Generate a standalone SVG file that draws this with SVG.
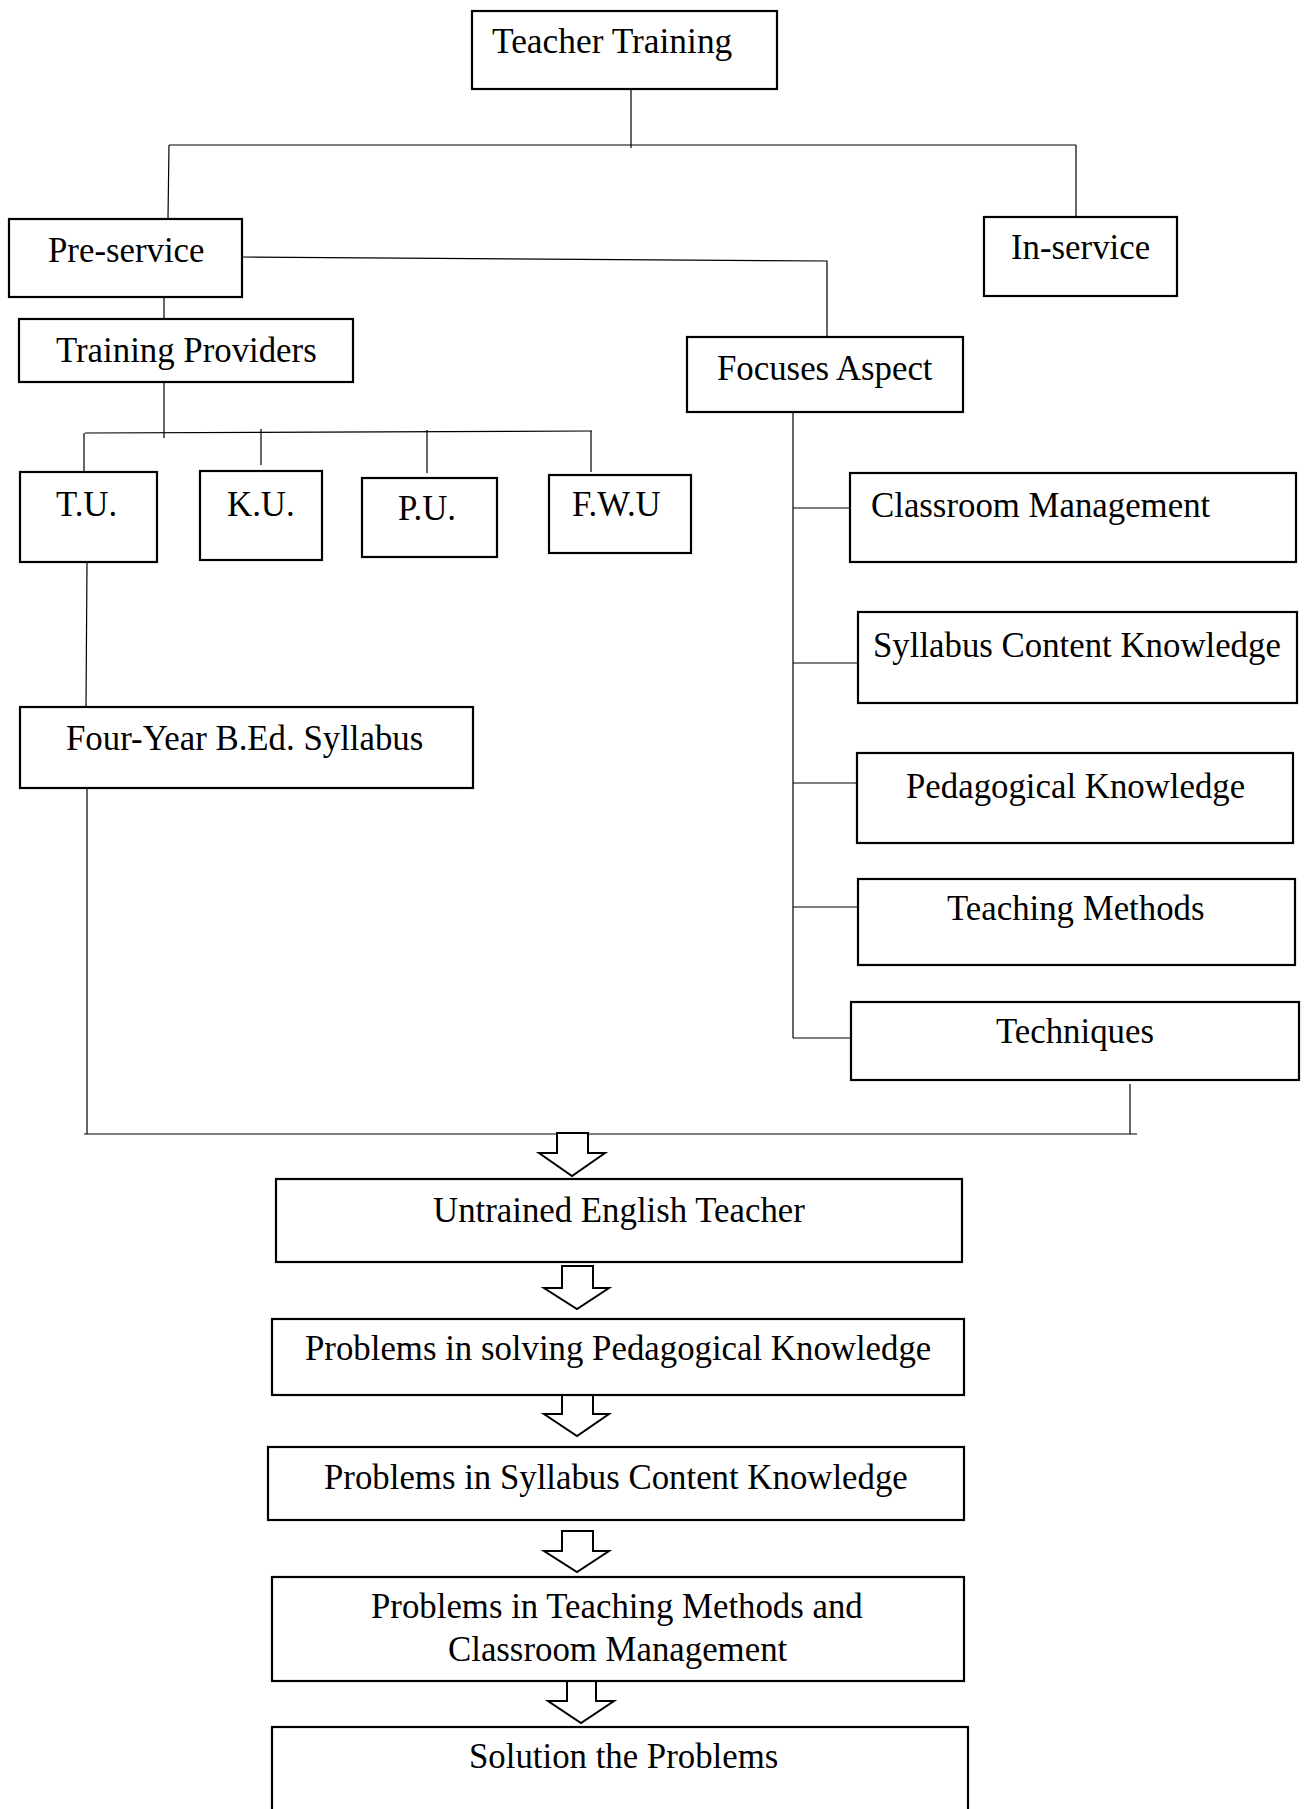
<svg xmlns="http://www.w3.org/2000/svg" width="1305" height="1809" viewBox="0 0 1305 1809">
<style>
.box{fill:#fff;stroke:#000;stroke-width:2.2}
.t{font-family:"Liberation Serif","Times New Roman",serif;font-size:34.8px;fill:#000}
.c{fill:none;stroke:#000;stroke-width:1.2}
.arr{fill:#fff;stroke:#000;stroke-width:2;stroke-linejoin:miter}
</style>
<rect width="1305" height="1809" fill="#fff"/>
<g id="connectors">
<path class="c" d="M631,89 V148"/>
<path class="c" d="M169,145 H1076"/>
<path class="c" d="M169,145 L168,218"/>
<path class="c" d="M1076,145 V217"/>
<path class="c" d="M242,257 L827,261 V337"/>
<path class="c" d="M164,297 V319"/>
<path class="c" d="M164,378 V438"/>
<path class="c" d="M85,433 L592,431"/>
<path class="c" d="M84,433 V472"/>
<path class="c" d="M261,429 V465"/>
<path class="c" d="M427,430 V473"/>
<path class="c" d="M591,431 V472"/>
<path class="c" d="M87,562 L86,707"/>
<path class="c" d="M87,788 V1134"/>
<path class="c" d="M793,407 V1038"/>
<path class="c" d="M793,508 H853"/>
<path class="c" d="M793,663 H858"/>
<path class="c" d="M793,783 H857"/>
<path class="c" d="M793,907 H858"/>
<path class="c" d="M793,1038 H851"/>
<path class="c" d="M1130,1084 V1134"/>
<path class="c" d="M84,1134 H1137"/>
<polygon class="arr" points="557,1133 588,1133 588,1153 605,1153 572,1176 539,1153 557,1153"/>
<polygon class="arr" points="562,1266 593,1266 593,1288 609,1288 577,1309 544,1288 562,1288"/>
<polygon class="arr" points="562,1393 593,1393 593,1414 609,1414 577,1436 544,1414 562,1414"/>
<polygon class="arr" points="562,1531 593,1531 593,1551 609,1551 577,1572 544,1551 562,1551"/>
<polygon class="arr" points="567,1681 596,1681 596,1701 614,1701 581,1723 548,1701 567,1701"/>
</g>
<g id="teacher-training"><rect class="box" x="472" y="11" width="305" height="78"/><text class="t" x="492" y="53" style="font-size:35.4px">Teacher Training</text></g>
<g id="pre-service"><rect class="box" x="9" y="219" width="233" height="78"/><text class="t" x="48" y="262">Pre-service</text></g>
<g id="in-service"><rect class="box" x="984" y="217" width="193" height="79"/><text class="t" x="1011" y="259">In-service</text></g>
<g id="training-providers"><rect class="box" x="19" y="319" width="334" height="63"/><text class="t" x="56" y="362">Training Providers</text></g>
<g id="focuses-aspect"><rect class="box" x="687" y="337" width="276" height="75"/><text class="t" x="717" y="380">Focuses Aspect</text></g>
<g id="tu"><rect class="box" x="20" y="472" width="137" height="90"/><text class="t" x="56" y="516">T.U.</text></g>
<g id="ku"><rect class="box" x="200" y="471" width="122" height="89"/><text class="t" x="227" y="516">K.U.</text></g>
<g id="pu"><rect class="box" x="362" y="478" width="135" height="79"/><text class="t" x="398" y="520">P.U.</text></g>
<g id="fwu"><rect class="box" x="549" y="475" width="142" height="78"/><text class="t" x="572" y="516">F.W.U</text></g>
<g id="bed-syllabus"><rect class="box" x="20" y="707" width="453" height="81"/><text class="t" x="66" y="750">Four-Year B.Ed. Syllabus</text></g>
<g id="classroom-management"><rect class="box" x="850" y="473" width="446" height="89"/><text class="t" x="871" y="517">Classroom Management</text></g>
<g id="syllabus-content"><rect class="box" x="858" y="612" width="439" height="91"/><text class="t" x="873" y="657">Syllabus Content Knowledge</text></g>
<g id="pedagogical"><rect class="box" x="857" y="753" width="436" height="90"/><text class="t" x="906" y="798">Pedagogical Knowledge</text></g>
<g id="teaching-methods"><rect class="box" x="858" y="879" width="437" height="86"/><text class="t" x="947" y="920">Teaching Methods</text></g>
<g id="techniques"><rect class="box" x="851" y="1002" width="448" height="78"/><text class="t" x="996" y="1043">Techniques</text></g>
<g id="untrained"><rect class="box" x="276" y="1179" width="686" height="83"/><text class="t" x="433" y="1222">Untrained English Teacher</text></g>
<g id="problems-pedagogical"><rect class="box" x="272" y="1319" width="692" height="76"/><text class="t" x="305" y="1360">Problems in solving Pedagogical Knowledge</text></g>
<g id="problems-syllabus"><rect class="box" x="268" y="1447" width="696" height="73"/><text class="t" x="324" y="1489">Problems in Syllabus Content Knowledge</text></g>
<g id="problems-teaching"><rect class="box" x="272" y="1577" width="692" height="104"/><text class="t" x="371" y="1618">Problems in Teaching Methods and</text><text class="t" x="448" y="1661">Classroom Management</text></g>
<g id="solution"><rect class="box" x="272" y="1727" width="696" height="110"/><text class="t" x="469" y="1768">Solution the Problems</text></g>
</svg>
